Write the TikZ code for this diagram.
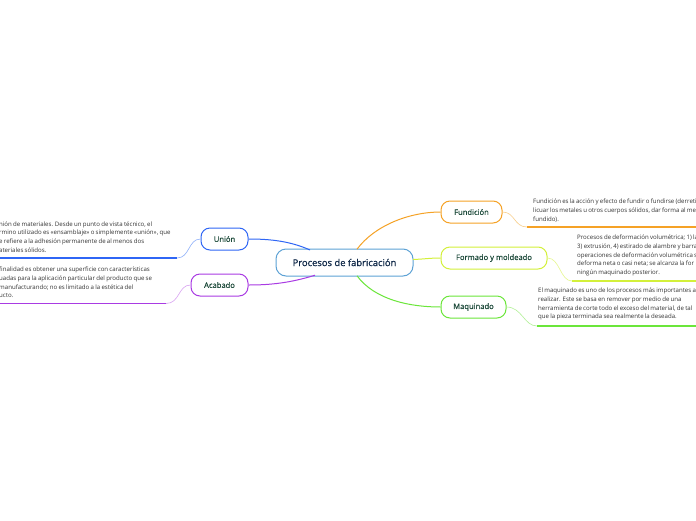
\documentclass[tikz,border=0pt]{standalone}
\usepackage{fontspec}
\setmainfont{Open Sans}
\newfontfamily\semib{Open Sans}[FakeBold=0.6]
\newfontfamily\descfont{Open Sans}[WordSpace=0.8]
\definecolor{cblue}{HTML}{2F66F5}
\definecolor{cbluel}{HTML}{8FB0FA}
\definecolor{cpurp}{HTML}{A93BE3}
\definecolor{cpurpl}{HTML}{D9A3F2}
\definecolor{corange}{HTML}{F5A226}
\definecolor{corangel}{HTML}{F8CE8A}
\definecolor{cyell}{HTML}{D3F03A}
\definecolor{cyelll}{HTML}{E6F78E}
\definecolor{cgreen}{HTML}{6BE63A}
\definecolor{cgreenl}{HTML}{B2F197}
\definecolor{ccent}{HTML}{5DA2D5}
\definecolor{ctitle}{HTML}{1D4A3A}
\definecolor{cnavy}{HTML}{0D2646}
\definecolor{ctext}{HTML}{333333}
\tikzset{
  central/.style={draw=ccent, line width=1pt, fill=white, rounded corners=10pt, minimum width=137pt, minimum height=27pt, font=\semib\fontsize{9.4}{11}\selectfont, text=cnavy},
  topic/.style={draw=#1, line width=1pt, fill=white, rounded corners=9pt, minimum height=22pt, inner xsep=10pt, font=\semib\fontsize{7.6}{9}\selectfont, text=ctitle},
  desc/.style={anchor=north west, align=left, inner sep=0pt, font=\descfont\fontsize{6.1}{8.6}\selectfont, text=ctext},
  conn/.style={draw=#1, line width=1pt},
  thin/.style={draw=#1, line width=0.6pt},
  uline/.style={draw=#1, line width=1.8pt}
}
\begin{document}
\begin{tikzpicture}[x=1pt,y=-1pt]
\clip (0,0) rectangle (696,520);
\fill[white] (0,0) rectangle (696,520);

% central
\node[central] (c) at (344.5,262.5) {Procesos de fabricación};

% topics
\node[topic=cblue, minimum width=47pt] (u) at (224.5,239) {Unión};
\node[topic=cpurp, minimum width=57pt] (a) at (219.5,285) {Acabado};
\node[topic=corange, minimum width=61pt] (f) at (471.5,212) {Fundición};
\node[topic=cyell, minimum width=106pt] (fm) at (494,258) {Formado y moldeado};
\node[topic=cgreen, minimum width=65pt] (m) at (473.5,307) {Maquinado};

% central connectors
\draw[conn=corange] (357,249.2) .. controls (375,225) and (410,212) .. (f.west);
\draw[conn=cyell] (413.2,259.5) .. controls (425,259) and (430,258) .. (fm.west);
\draw[conn=cgreen] (357,275.8) .. controls (375,300) and (410,307) .. (m.west);
\draw[conn=cblue] (310,250) .. controls (290,241) and (270,239) .. (u.east);
\draw[conn=cpurp] (315,275.2) .. controls (290,283) and (270,285) .. (a.east);

% description lines
\coordinate (ul1) at (177,258);
\coordinate (ul0) at (0,258);
\draw[thin=cbluel] (u.west) .. controls (188,239) and (190,258) .. (ul1);
\draw[uline=cblue] (ul1) -- (ul0);
\node[desc] (ut) at (-1,221.5) {nión de materiales. Desde un punto de vista técnico, el\\
rmino utilizado es «ensamblaje» o simplemente «unión», que\\
e refiere a la adhesión permanente de al menos dos\\
ateriales sólidos.};

\coordinate (al1) at (166,303.5);
\coordinate (al0) at (0,303.5);
\draw[thin=cpurpl] (a.west) .. controls (178,285) and (180,303.5) .. (al1);
\draw[uline=cpurp] (al1) -- (al0);
\node[desc] (at) at (-1,267) {finalidad es obtener una superficie con características\\
uadas para la aplicación particular del producto que se\\
manufacturando; no es limitado a la estética del\\
ucto.};

\coordinate (fl1) at (527,227);
\coordinate (fl0) at (696,227);
\draw[thin=corangel] (f.east) .. controls (515,212) and (514,227) .. (fl1);
\draw[uline=corange] (fl1) -- (fl0);
\node[desc] (ft) at (533,199) {Fundición es la acción y efecto de fundir o fundirse (derreti\\
licuar los metales u otros cuerpos sólidos, dar forma al me\\
fundido).};

\coordinate (fml1) at (572,281);
\coordinate (fml0) at (696,281);
\draw[thin=cyelll] (fm.east) .. controls (560,258) and (560,281) .. (fml1);
\draw[uline=cyell] (fml1) -- (fml0);
\node[desc] (fmt) at (577,235) {Procesos de deformación volumétrica; 1) la\\
3) extrusión, 4) estirado de alambre y barra\\
operaciones de deformación volumétrica s\\
deforma neta o casi neta; se alcanza la for\\
ningún maquinado posterior.};

\coordinate (ml1) at (537,326);
\coordinate (ml0) at (696,326);
\draw[thin=cgreenl] (m.east) .. controls (522,307) and (524,326) .. (ml1);
\draw[uline=cgreen] (ml1) -- (ml0);
\node[desc] (mt) at (538,288) {El maquinado es uno de los procesos más importantes a\\
realizar. Este se basa en remover por medio de una\\
herramienta de corte todo el exceso del material, de tal\\
que la pieza terminada sea realmente la deseada.};
\end{tikzpicture}
\end{document}
